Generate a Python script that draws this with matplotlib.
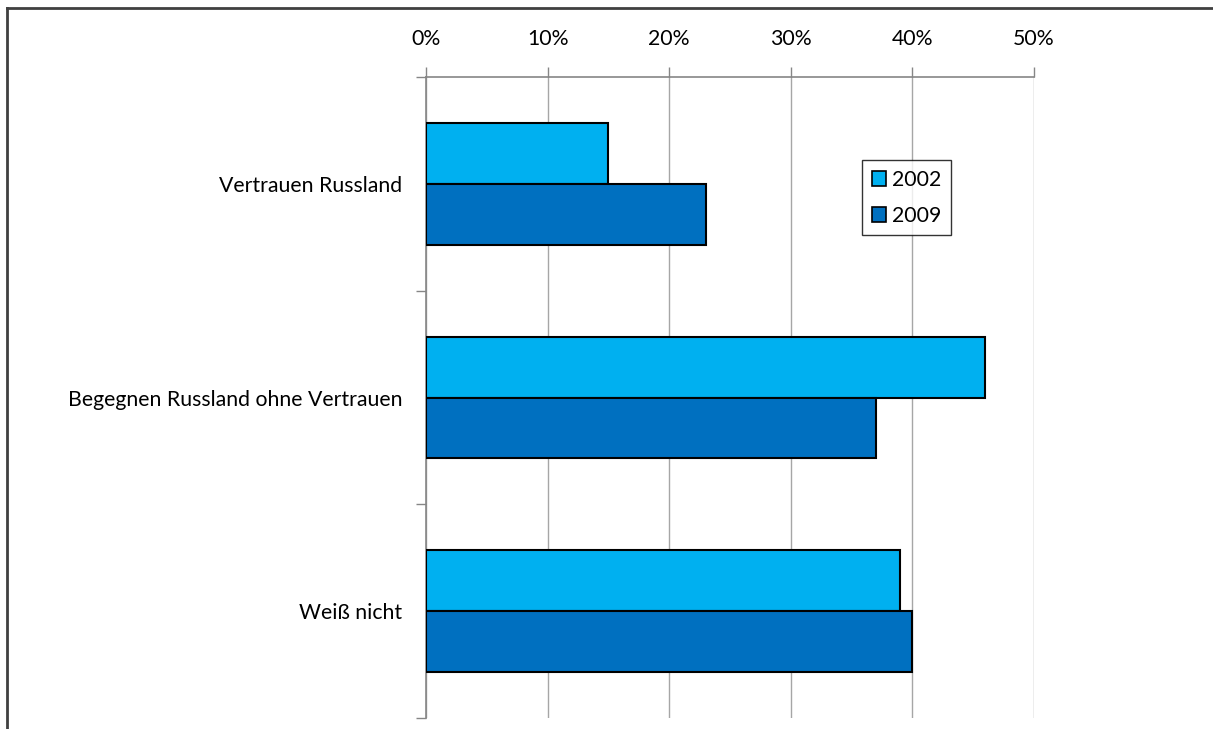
import numpy as np
import matplotlib
matplotlib.use("Agg")
import matplotlib.pyplot as plt
import matplotlib.patches as mpatches
from matplotlib.lines import Line2D

# ── Data ─────────────────────────────────────────────────────────────────────
categories = ["Vertrauen Russland", "Begegnen Russland ohne Vertrauen", "Weiß nicht"]
years = ["2002", "2009"]
values_2002 = [15, 46, 39]
values_2009 = [23, 37, 40]
x_ticks = [0, 10, 20, 30, 40, 50]
x_tick_labels = ["0%", "10%", "20%", "30%", "40%", "50%"]

COLORS = {"2002": "#00B0F0", "2009": "#0070C0"}
GRID = "#A6A6A6"
SPINE = "#868686"
# ─────────────────────────────────────────────────────────────────────────────

plt.rcParams["font.family"] = ["Lato", "DejaVu Sans"]
FS = 15.3

W, H = 1213, 729
fig = plt.figure(figsize=(W / 100, H / 100), dpi=100)
ax = fig.add_axes([426 / W, 1 - 718 / H, (1034 - 426) / W, (718 - 77) / H])

bar_h = 0.285
pos = np.arange(len(categories))
ax.barh(pos - bar_h / 2, values_2002, height=bar_h, color=COLORS["2002"],
        edgecolor="black", linewidth=1.5, zorder=3)
ax.barh(pos + bar_h / 2, values_2009, height=bar_h, color=COLORS["2009"],
        edgecolor="black", linewidth=1.5, zorder=3)

ax.set_xlim(0, 50)
ax.set_ylim(len(categories) - 0.5, -0.5)

# x axis on top
ax.xaxis.tick_top()
ax.set_xticks(x_ticks)
ax.set_xticklabels(x_tick_labels, fontsize=FS)
ax.tick_params(axis="x", direction="out", length=7, width=1, color=SPINE, pad=13)
ax.grid(axis="x", color=GRID, linewidth=1, zorder=0)

# y axis: labels at centers, ticks at category boundaries
ax.set_yticks(pos)
ax.set_yticklabels(categories, fontsize=FS)
ax.tick_params(axis="y", length=0, pad=17)
ax.set_yticks(np.arange(-0.5, len(categories)), minor=True)
ax.tick_params(axis="y", which="minor", direction="out", length=7, width=1, color=SPINE)

for side in ["right", "bottom"]:
    ax.spines[side].set_visible(False)
for side in ["top", "left"]:
    ax.spines[side].set_color(SPINE)
    ax.spines[side].set_linewidth(1.2)

handles = [mpatches.Patch(facecolor=COLORS[y], edgecolor="black", linewidth=1.2, label=y)
           for y in years]
leg = ax.legend(handles=handles, loc="upper left",
                bbox_to_anchor=(862 / W, 1 - 160 / H), bbox_transform=fig.transFigure,
                fontsize=FS, frameon=True, fancybox=False, handlelength=0.7,
                handleheight=0.7, handletextpad=0.25, borderpad=0.45, labelspacing=0.75,
                borderaxespad=0)
leg.get_frame().set_edgecolor("black")
leg.get_frame().set_linewidth(1)

# outer frame (top and left)
fig.add_artist(Line2D([7 / W, 1], [1 - 8 / H, 1 - 8 / H], color="#404040", linewidth=2,
                      transform=fig.transFigure))
fig.add_artist(Line2D([7 / W, 7 / W], [0, 1 - 8 / H], color="#404040", linewidth=2,
                      transform=fig.transFigure))

fig.savefig("out.png", dpi=100)
